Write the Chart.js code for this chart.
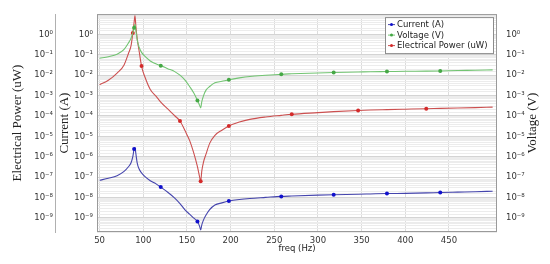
<!DOCTYPE html>
<html>
<head>
<meta charset="utf-8">
<script src="https://cdn.jsdelivr.net/npm/chart.js@4.4.0/dist/chart.umd.min.js"></script>
<style>
  body { margin: 0; background: #fff; }
</style>
</head>
<body>
<canvas id="myChart" width="550" height="264"></canvas>
<script>
// frequency samples (Hz)
const freqs = [50, 60, 70, 78, 83, 86, 88, 89.5, 90.5, 91.5, 93, 95, 98, 102, 108, 115, 120, 128, 136, 142,
  148, 153, 158, 162, 164.5, 165.7, 167, 169, 172, 176, 182, 190, 198, 210, 222, 240, 258, 270, 300, 318,
  346, 360, 379, 400, 424, 440, 460, 480, 500];

// Current (A)
const current = [6.9e-8, 8.7e-8, 1.17e-7, 1.9e-7, 3.2e-7, 5.0e-7, 1.0e-6, 2.4e-6, 2.8e-6, 1.4e-6,
  5.0e-7, 2.6e-7, 1.6e-7, 1.05e-7, 6.6e-8, 4.5e-8, 3.2e-8, 1.8e-8, 9.3e-9, 5.0e-9,
  2.4e-9, 1.5e-9, 9.5e-10, 6.6e-10, 3.8e-10, 2.5e-10, 4.5e-10, 7.9e-10, 1.4e-9, 2.5e-9,
  4.2e-9, 5.4e-9, 6.6e-9, 7.9e-9, 8.9e-9, 1.0e-8, 1.12e-8, 1.17e-8, 1.29e-8, 1.35e-8,
  1.43e-8, 1.48e-8, 1.55e-8, 1.58e-8, 1.66e-8, 1.74e-8, 1.82e-8, 1.9e-8, 2.0e-8];

// Voltage (V)
const voltage = [6.8e-2, 8.1e-2, 0.107, 0.186, 0.38, 0.66, 1.2, 2.14, 3.16, 1.58,
  0.56, 0.25, 0.132, 8.3e-2, 5.0e-2, 3.5e-2, 2.95e-2, 2.1e-2, 1.5e-2, 1.0e-2,
  5.6e-3, 2.8e-3, 1.3e-3, 5.8e-4, 3.3e-4, 2.5e-4, 5.0e-4, 1.0e-3, 1.9e-3, 2.8e-3,
  4.2e-3, 5.0e-3, 6.0e-3, 7.4e-3, 8.7e-3, 1.0e-2, 1.12e-2, 1.17e-2, 1.29e-2, 1.35e-2,
  1.43e-2, 1.48e-2, 1.51e-2, 1.55e-2, 1.58e-2, 1.62e-2, 1.7e-2, 1.74e-2, 1.82e-2];

// Electrical Power (uW)
const power = [3.4e-3, 5.6e-3, 1.26e-2, 3.2e-2, 0.117, 0.28, 1.17, 4.0, 8.5, 2.5,
  0.63, 0.178, 2.8e-2, 7.9e-3, 2.0e-3, 8.9e-4, 4.8e-4, 2.2e-4, 1.02e-4, 5.6e-5,
  1.8e-5, 6.3e-6, 1.4e-6, 3.2e-7, 1.0e-7, 6.2e-8, 2.0e-7, 5.6e-7, 1.4e-6, 4.5e-6,
  1.12e-5, 2.0e-5, 3.2e-5, 5.0e-5, 6.8e-5, 8.9e-5, 1.07e-4, 1.2e-4, 1.45e-4, 1.62e-4,
  1.86e-4, 1.95e-4, 2.04e-4, 2.14e-4, 2.26e-4, 2.34e-4, 2.45e-4, 2.57e-4, 2.7e-4];

// frequencies where markers are shown
const markCurrent = [89.5, 120, 162, 198, 258, 318, 379, 440];
const markVoltage = [89.5, 120, 162, 198, 258, 318, 379, 440];
const markPower = [88, 98, 142, 165.7, 198, 270, 346, 424];

const xTicks = [50, 100, 150, 200, 250, 300, 350, 400, 450];

const SUP = { "-": "\u207B", "0": "\u2070", "1": "\u00B9", "2": "\u00B2", "3": "\u00B3", "4": "\u2074",
  "5": "\u2075", "6": "\u2076", "7": "\u2077", "8": "\u2078", "9": "\u2079" };

function isDecade(v) {
  const e = Math.log10(v);
  return Math.abs(e - Math.round(e)) < 1e-6;
}
function decadeLabel(v) {
  if (!isDecade(v) || v > 5) return "";
  return "10" + String(Math.round(Math.log10(v))).split("").map(c => SUP[c]).join("");
}

const sans = "'DejaVu Sans', sans-serif";
const serif = "'Liberation Serif', 'Times New Roman', serif";

function series(label, values, marks, line, dot) {
  return {
    label: label,
    data: freqs.map((f, i) => ({ x: f, y: values[i] })),
    borderColor: line,
    borderWidth: 1.1,
    pointBackgroundColor: dot,
    pointBorderWidth: 0,
    pointRadius: c => (marks.includes(freqs[c.dataIndex]) ? 2 : 0),
    pointHoverRadius: 0,
    cubicInterpolationMode: "monotone",
    yAxisID: "y",
  };
}

const frameAndLegend = {
  id: "frameAndLegend",
  afterDraw(chart) {
    const { ctx, chartArea: a } = chart;
    ctx.save();
    ctx.strokeStyle = "#9a9a9a";
    ctx.lineWidth = 1;
    ctx.strokeRect(a.left + 0.5, a.top + 0.5, a.width - 1, a.height - 1);

    // legend box in the top right corner
    const bx = a.right - 112, by = a.top + 3, bw = 108, bh = 36;
    ctx.fillStyle = "#fff";
    ctx.fillRect(bx, by, bw, bh);
    ctx.strokeStyle = "#8c8c8c";
    ctx.strokeRect(bx + 0.5, by + 0.5, bw, bh);
    ctx.font = "8.5px " + sans;
    ctx.textBaseline = "middle";
    chart.data.datasets.forEach((ds, i) => {
      const y = by + 7.5 + i * 10.5;
      ctx.strokeStyle = ds.borderColor;
      ctx.beginPath();
      ctx.moveTo(bx + 3, y);
      ctx.lineTo(bx + 10, y);
      ctx.stroke();
      ctx.fillStyle = ds.pointBackgroundColor;
      ctx.beginPath();
      ctx.arc(bx + 6.5, y, 1.5, 0, Math.PI * 2);
      ctx.fill();
      ctx.fillStyle = "#222";
      ctx.fillText(ds.label, bx + 12, y + 0.5);
    });

    // right axis title, reading bottom to top
    ctx.translate(chart.scales.yV.right - 17, (a.top + a.bottom) / 2);
    ctx.rotate(-Math.PI / 2);
    ctx.font = "13px " + serif;
    ctx.fillStyle = "#222";
    ctx.textAlign = "center";
    ctx.fillText("Voltage (V)", 0, 0);
    ctx.restore();
  },
};

function logAxis(extra) {
  return Object.assign({
    type: "logarithmic",
    min: 2e-10,
    max: 10,
    ticks: {
      autoSkip: false,
      padding: 4,
      color: "#333",
      font: { family: sans, size: 8.5 },
      callback: v => decadeLabel(v),
    },
    grid: { drawOnChartArea: false, drawTicks: false },
    border: { display: false },
  }, extra);
}

new Chart(document.getElementById("myChart"), {
  type: "line",
  data: {
    datasets: [
      series("Current (A)", current, markCurrent, "#4545ad", "#1010cc"),
      series("Voltage (V)", voltage, markVoltage, "#72c472", "#45a845"),
      series("Electrical Power (uW)", power, markPower, "#cc5050", "#d42a2a"),
    ],
  },
  plugins: [frameAndLegend],
  options: {
    responsive: false,
    animation: false,
    layout: { padding: { top: 12, right: 0, bottom: 0, left: 0 } },
    plugins: { legend: { display: false }, tooltip: { enabled: false } },
    scales: {
      x: {
        type: "linear",
        min: 47,
        max: 505,
        afterBuildTicks: axis => { axis.ticks = xTicks.map(v => ({ value: v })); },
        afterFit: s => { s.height = 32; },
        ticks: { padding: 4, color: "#333", font: { family: sans, size: 8.5 } },
        grid: { color: "#dcdcdc", drawTicks: false },
        border: { display: false },
        title: { display: true, text: "freq (Hz)", color: "#222", font: { family: sans, size: 8.5 },
          padding: { top: 0, bottom: 10 } },
      },
      y: logAxis({
        position: "left",
        weight: 0,
        afterFit: s => { s.width = 42; },
        grid: {
          drawTicks: false,
          color: c => (c.tick && isDecade(c.tick.value) ? "#d4d4d4" : "#ececec"),
        },
        title: { display: true, text: "Current (A)", color: "#222", font: { family: serif, size: 13 },
          padding: { top: 2, bottom: 0 } },
      }),
      yP: logAxis({
        position: "left",
        weight: 1,
        afterFit: s => { s.width = 55; },
        ticks: {
          autoSkip: false, padding: 2, color: "#333", font: { family: sans, size: 8.5 },
          callback: v => decadeLabel(v),
        },
        border: { display: true, color: "#b0b0b0", dash: [1, 1] },
        title: { display: true, text: "Electrical Power (uW)", color: "#222", font: { family: serif, size: 13 },
          padding: { top: 10, bottom: 0 } },
      }),
      yV: logAxis({
        position: "right",
        afterFit: s => { s.width = 53; },
        ticks: {
          autoSkip: false, padding: 9, color: "#333", font: { family: sans, size: 8.5 },
          callback: v => decadeLabel(v),
        },
      }),
    },
  },
});
</script>
</body>
</html>
